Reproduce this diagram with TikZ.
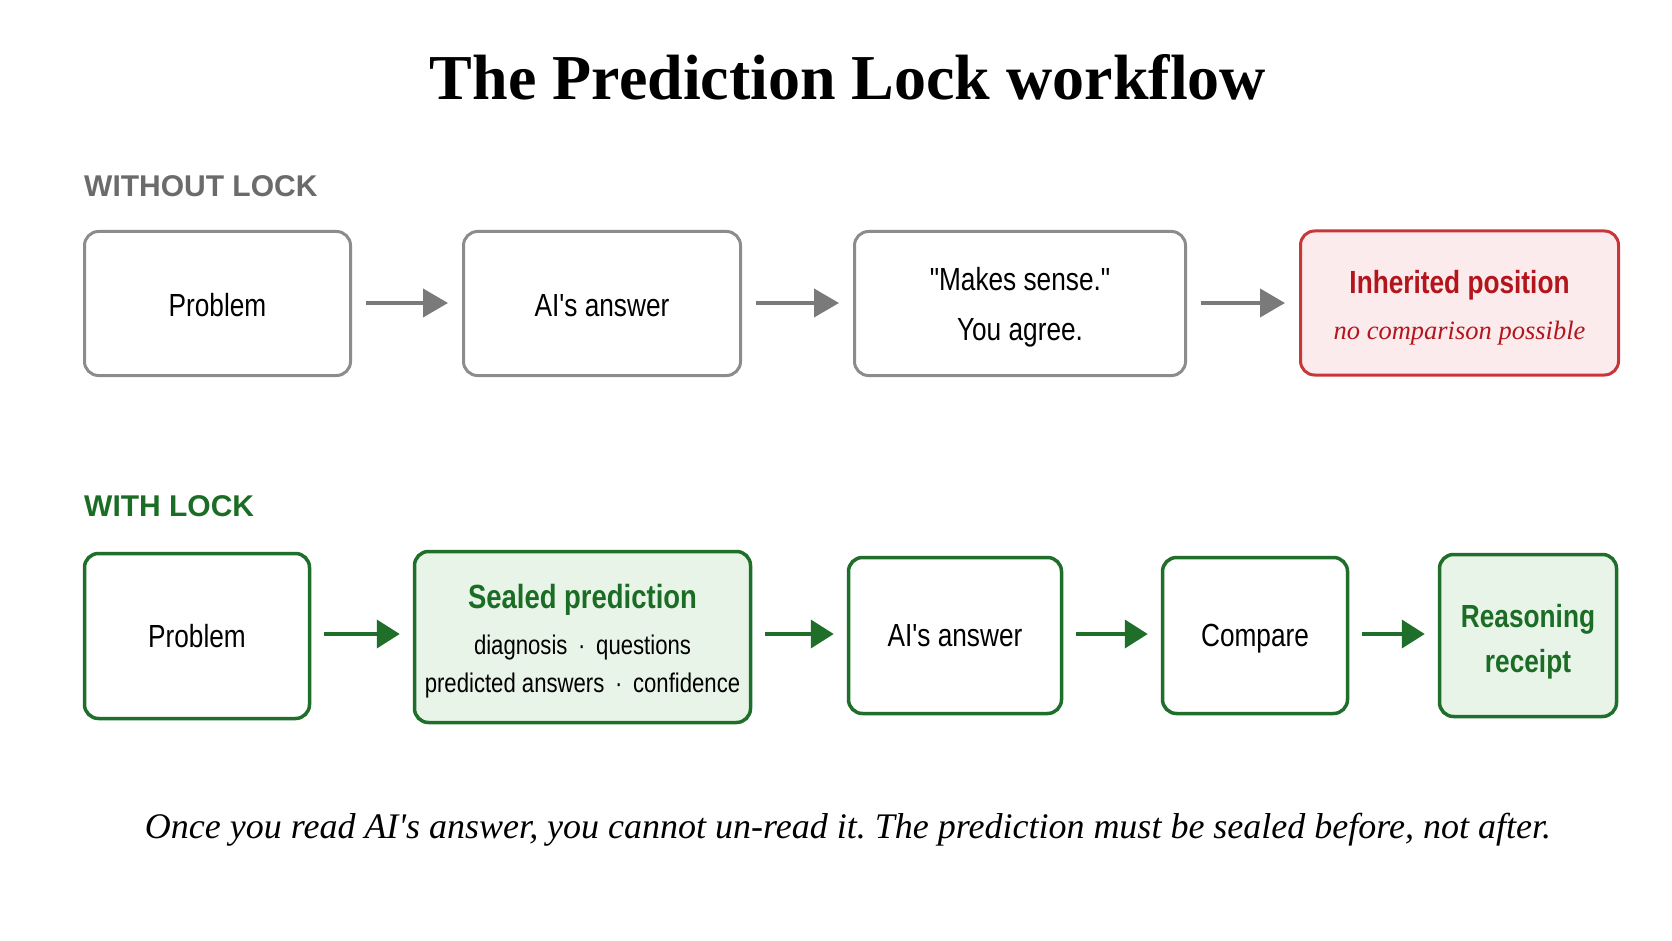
\documentclass[tikz,border=0pt]{standalone}
\usepackage{fontspec}
\setmainfont{Liberation Serif}
\newfontfamily\boxfont[FakeStretch=0.82]{Liberation Sans}
\newfontfamily\headfont{Liberation Sans}
\usetikzlibrary{arrows.meta}
\definecolor{boxgray}{HTML}{8C8C8C}
\definecolor{arrowgray}{HTML}{7A7A7A}
\definecolor{headgray}{HTML}{6B6B6B}
\definecolor{lockred}{HTML}{C8363A}
\definecolor{lockredfill}{HTML}{FCEBEC}
\definecolor{lockredtext}{HTML}{B3151D}
\definecolor{lockgreen}{HTML}{1F6F2B}
\definecolor{lockgreenfill}{HTML}{E9F4E9}
\definecolor{lockgreentext}{HTML}{1B6D25}
\tikzset{
  plainbox/.style={draw=boxgray, line width=3pt, rounded corners=14pt, fill=white,
    font=\boxfont\fontsize{32}{50}\selectfont},
  redbox/.style={draw=lockred, line width=3pt, rounded corners=14pt, fill=lockredfill,
    text=lockredtext, font=\boxfont\fontsize{32}{46}\selectfont},
  greenbox/.style={draw=lockgreen, line width=3.5pt, rounded corners=14pt, fill=white,
    font=\boxfont\fontsize{32}{45}\selectfont},
  sealbox/.style={greenbox, fill=lockgreenfill},
  grayarrow/.style={draw=arrowgray, line width=4pt, shorten <=14pt, shorten >=14pt,
    -{Triangle[length=25pt,width=28pt]}},
  greenarrow/.style={draw=lockgreen, line width=4pt, shorten <=13pt, shorten >=13pt,
    -{Triangle[length=23pt,width=28pt]}}
}
\begin{document}
\frenchspacing
\begin{tikzpicture}[x=1pt, y=-1pt, every node/.style={inner sep=0pt, align=center}]
\useasboundingbox (0,0) rectangle (1672,941);
\fill[white] (0,0) rectangle (1672,941);
\node (title) at (848,77) {\fontsize{64}{70}\selectfont\bfseries The Prediction Lock workflow};
\node[anchor=west, text=headgray] (hnolock) at (84,186) {\headfont\fontsize{30}{36}\selectfont\bfseries WITHOUT LOCK};
\node[anchor=west, text=lockgreentext] (hlock) at (84,506) {\headfont\fontsize{30}{36}\selectfont\bfseries WITH LOCK};
    \node[plainbox, minimum width=266pt, minimum height=144pt] (u0) at (217.5,303.5) {\rule{0pt}{26pt}Problem};
    \node[plainbox, minimum width=277pt, minimum height=144pt] (u1) at (602,303.5) {\rule{0pt}{26pt}AI's answer};
    \node[plainbox, minimum width=331pt, minimum height=144pt] (u2) at (1020,303.5) {\rule{0pt}{31pt}"Makes sense."\\You agree.};
    \node[redbox, minimum width=318pt, minimum height=144pt] (u3) at (1459.5,303) {\rule{0pt}{33pt}\bfseries Inherited position\\\rmfamily\fontsize{26.5}{46}\selectfont\itshape no comparison possible};
    \node[greenbox, minimum width=225pt, minimum height=165pt] (w0) at (197,636) {Problem};
    \node[sealbox, minimum width=336pt, minimum height=171pt, font=\boxfont\fontsize{27}{46}\selectfont] (w1) at (582.5,637) {\rule{0pt}{32pt}{\bfseries\fontsize{33.5}{46}\selectfont\color{lockgreentext}Sealed prediction}\\diagnosis \,·\, questions\\[-8pt]predicted answers \,·\, confidence};
    \node[greenbox, minimum width=213pt, minimum height=156pt] (w2) at (955,635.5) {AI's answer};
    \node[greenbox, minimum width=185pt, minimum height=156pt] (w3) at (1255,635.5) {\rule{0pt}{29pt}Compare};
    \node[sealbox, minimum width=177pt, minimum height=162pt, text=lockgreentext, font=\boxfont\fontsize{32}{45}\selectfont\bfseries] (w4) at (1528,635.5) {\rule{0pt}{35pt}Reasoning\\receipt};
\node (moral) at (848,830) {\fontsize{36}{42}\selectfont\itshape Once you read AI\textquotesingle s answer, you cannot un-read it. The prediction must be sealed before, not after.};
    \foreach \from/\to in {u0/u1, u1/u2, u2/u3}
        \draw[grayarrow] (\from.east |- 0,303) -- (\to.west |- 0,303);
    \foreach \from/\to in {w0/w1, w1/w2, w2/w3, w3/w4}
        \draw[greenarrow] (\from.east |- 0,634) -- (\to.west |- 0,634);
\end{tikzpicture}
\end{document}
